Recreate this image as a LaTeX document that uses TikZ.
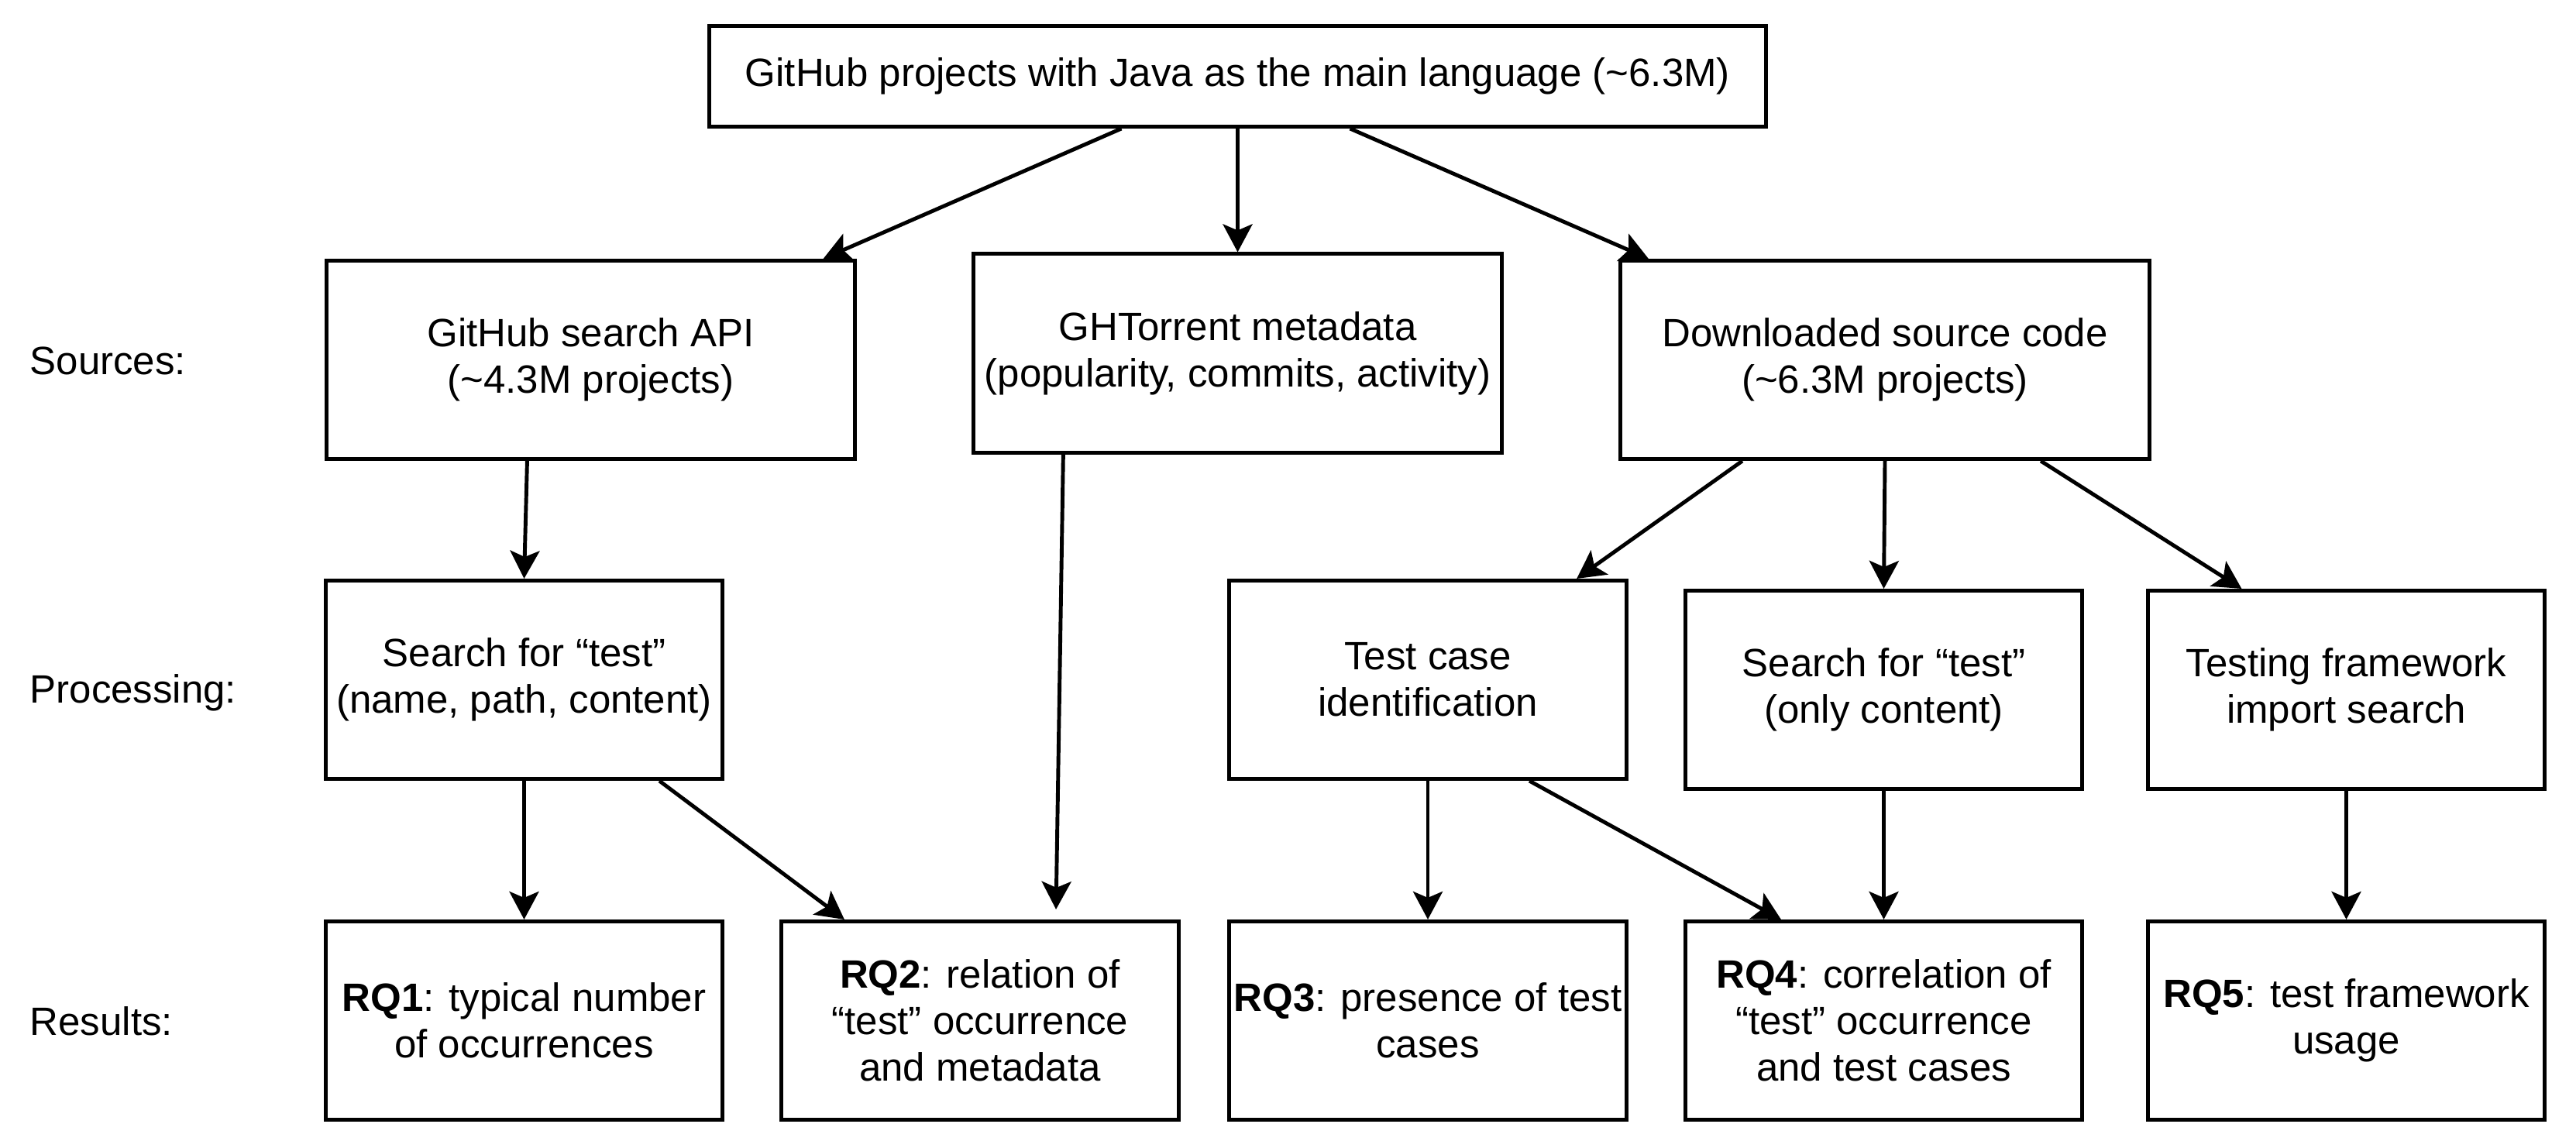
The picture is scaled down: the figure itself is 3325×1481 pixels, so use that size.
\documentclass[tikz,border=0pt]{standalone}
\usepackage{fontspec}
\setmainfont{Liberation Sans}
\usepackage{tikz}
\usetikzlibrary{arrows.meta}
\pgfdeclarelayer{background}
\pgfdeclarelayer{foreground}
\pgfsetlayers{background,main,foreground}
\tikzset{
  box/.style={draw, line width=1.4pt, fill=white, align=center, inner sep=0pt, minimum width=5.12cm, minimum height=2.56cm, font=\fontsize{14.5}{17.1}\selectfont},
  srcbox/.style={box, minimum width=6.82cm},
  rowlabel/.style={anchor=west, inner sep=0pt, font=\fontsize{14.5}{17.1}\selectfont},
  flow/.style={-{Stealth[length=0.36cm,width=0.38cm,inset=0.08cm]}, line width=1.4pt}
}

\begin{document}
\begin{tikzpicture}[x=0.01cm,y=-0.01cm]
\useasboundingbox (0,0) rectangle (3325,1481);
\begin{pgfonlayer}{foreground}
\node[box, minimum width=13.63cm, minimum height=1.30cm] (java) at (1597.5,98.5) {GitHub projects with Java as the main language (\textasciitilde6.3M)};
\node[srcbox] (api) at (762.5,464.5) {GitHub search API\\(\textasciitilde4.3M projects)};
\node[srcbox] (ght) at (1597.5,456) {GHTorrent metadata\\(popularity, commits, activity)};
\node[srcbox] (code) at (2433,464.5) {Downloaded source code\\(\textasciitilde6.3M projects)};
\node[box] (srch) at (676.5,877.5) {Search for “test”\\(name, path, content)};
\node[box] (tci) at (1843,877.5) {Test case\\identification};
\node[box] (srco) at (2431.5,890.5) {Search for “test”\\(only content)};
\node[box] (tfw) at (3028.5,890.5) {Testing framework\\import search};
\node[box] (rq1) at (676.5,1317.5) {\textbf{RQ1}: typical number\\of occurrences};
\node[box] (rq2) at (1265,1317.5) {\textbf{RQ2}: relation of\\“test” occurrence\\and metadata};
\node[box] (rq3) at (1843,1317.5) {\textbf{RQ3}: presence of test\\cases};
\node[box] (rq4) at (2431.5,1317.5) {\textbf{RQ4}: correlation of\\“test” occurrence\\and test cases};
\node[box] (rq5) at (3028.5,1317.5) {\textbf{RQ5}: test framework\\usage};
\node[rowlabel] (lsrc) at (38,466) {Sources:};
\node[rowlabel] (lproc) at (38,894) {Processing:};
\node[rowlabel] (lres) at (38,1318) {Results:};
\end{pgfonlayer}
\begin{pgfonlayer}{background}
\draw[flow] ([xshift=-1.5cm]java.south) -- ([xshift=3cm]api.north);
\draw[flow] (java.south) -- (ght.north);
\draw[flow] ([xshift=1.45cm]java.south) -- ([xshift=-3.05cm]code.north);
\draw[flow] ([xshift=-0.82cm]api.south) -- (srch.north);
\draw[flow] ([xshift=-2.25cm]ght.south) -- ([xshift=0.98cm,yshift=0.13cm]rq2.north);
\draw[flow] ([xshift=-1.84cm]code.south) -- ([xshift=1.92cm]tci.north);
\draw[flow] (code.south) -- (srco.north);
\draw[flow] ([xshift=2.01cm]code.south) -- ([xshift=-1.35cm]tfw.north);
\draw[flow] (srch.south) -- (rq1.north);
\draw[flow] ([xshift=1.745cm]srch.south) -- ([xshift=-1.75cm]rq2.north);
\draw[flow] (tci.south) -- (rq3.north);
\draw[flow] ([xshift=1.31cm]tci.south) -- ([xshift=-1.325cm]rq4.north);
\draw[flow] (srco.south) -- (rq4.north);
\draw[flow] (tfw.south) -- (rq5.north);
\end{pgfonlayer}
\end{tikzpicture}
\end{document}
